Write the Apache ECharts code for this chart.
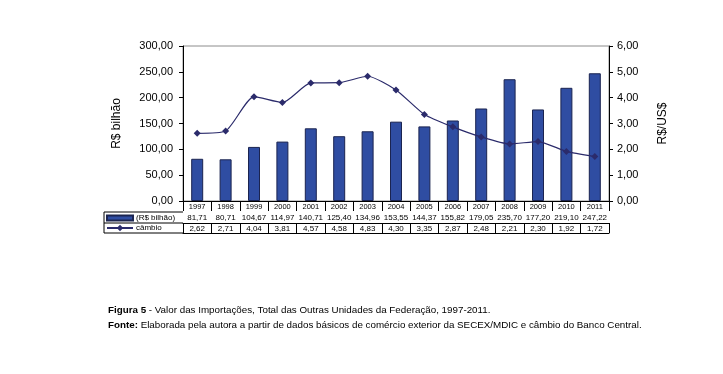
<!DOCTYPE html>
<html><head><meta charset="utf-8">
<script src="https://cdn.jsdelivr.net/npm/echarts@6/dist/echarts.min.js"></script>
<style>html,body{margin:0;padding:0;background:#fff}#c{width:723px;height:374px}</style>
</head><body><div id="c"></div>
<script>
var years = ['1997','1998','1999','2000','2001','2002','2003','2004','2005','2006','2007','2008','2009','2010','2011'];
var importacoes = [81.71,80.71,104.67,114.97,140.71,125.40,134.96,153.55,144.37,155.82,179.05,235.70,177.20,219.10,247.22];
var cambio = [2.62,2.71,4.04,3.81,4.57,4.58,4.83,4.30,3.35,2.87,2.48,2.21,2.30,1.92,1.72];
var seriesNames = ['(R$ bilhão)','câmbio'];
var captionTitle = 'Figura 5';
var captionText = ' - Valor das Importações, Total das Outras Unidades da Federação, 1997-2011.';
var sourceTitle = 'Fonte:';
var sourceText = ' Elaborada pela autora a partir de dados básicos de comércio exterior da SECEX/MDIC e câmbio do Banco Central.';

function fmt(v){ return v.toFixed(2).replace('.', ','); }
var FONT = 'Liberation Sans';
var chart = echarts.init(document.getElementById('c'));

function tableAxis(data, offset, showLabels){
  return {
    type:'category', data:data, position:'bottom', offset:offset, gridIndex:0,
    axisLine:{show:true, lineStyle:{color:'#000', width:1}},
    axisTick:{show:showLabels, length:10, inside:false, lineStyle:{color:'#000'}},
    axisLabel:{show:showLabels, margin:2, fontSize:8, color:'#000', fontFamily:FONT, interval:0},
    splitLine:{show:false}
  };
}

chart.setOption({
  animation:false,
  textStyle:{fontFamily:FONT},
  grid:{left:183, right:114, top:46, bottom:173, show:true, borderColor:'#8c8c8c', borderWidth:1},
  legend:[
    {data:[{name:seriesNames[0], icon:'rect'}], left:106, top:214, orient:'vertical', itemWidth:26, itemHeight:5, itemGap:0,
     textStyle:{fontSize:8, color:'#000', fontFamily:FONT, padding:[0,0,0,-2]}, padding:0, selectedMode:false},
    {data:[seriesNames[1]], left:106, top:224, orient:'vertical', itemWidth:26, itemHeight:8, itemGap:0,
     textStyle:{fontSize:8, color:'#000', fontFamily:FONT, padding:[0,0,0,-2]}, padding:0, selectedMode:false}
  ],
  xAxis:[
    {type:'category', data:years, position:'bottom', offset:0,
     axisLine:{show:true, lineStyle:{color:'#000', width:1}},
     axisTick:{show:true, length:10, lineStyle:{color:'#000'}},
     axisLabel:{margin:2, fontSize:7.5, color:'#000', fontFamily:FONT, interval:0}},
    tableAxis(importacoes.map(fmt), 11, true),
    tableAxis(cambio.map(fmt), 22, true),
    tableAxis(years, 32, false)
  ],
  yAxis:[
    {type:'value', min:0, max:300, interval:50, position:'left',
     name:'R$ bilhão', nameLocation:'middle', nameRotate:90, nameGap:60,
     nameTextStyle:{fontSize:12, color:'#000', fontFamily:FONT},
     axisLine:{show:true, lineStyle:{color:'#000'}},
     axisTick:{show:true, length:4, lineStyle:{color:'#000'}},
     axisLabel:{formatter:fmt, fontSize:11, color:'#000', margin:10, fontFamily:FONT},
     splitLine:{show:false}},
    {type:'value', min:0, max:6, interval:1, position:'right',
     name:'R$/US$', nameLocation:'middle', nameRotate:90, nameGap:48,
     nameTextStyle:{fontSize:12, color:'#000', fontFamily:FONT},
     axisLine:{show:true, lineStyle:{color:'#000'}},
     axisTick:{show:true, length:4, lineStyle:{color:'#000'}},
     axisLabel:{formatter:fmt, fontSize:11, color:'#000', margin:8, fontFamily:FONT},
     splitLine:{show:false}}
  ],
  series:[
    {name:seriesNames[0], type:'bar', data:importacoes, xAxisIndex:0, yAxisIndex:0, barWidth:12,
     itemStyle:{color:'#2f4da2', borderColor:'#1b2450', borderWidth:1}},
    {name:seriesNames[1], type:'line', data:cambio, xAxisIndex:0, yAxisIndex:1, smooth:0.2,
     symbol:'diamond', symbolSize:7, z:5,
     lineStyle:{color:'#2b2b6b', width:1.2}, itemStyle:{color:'#2b2b6b'}}
  ],
  graphic:[
    {type:'line', shape:{x1:104, y1:212, x2:183, y2:212}, style:{stroke:'#000', lineWidth:1}},
    {type:'line', shape:{x1:104, y1:223, x2:183, y2:223}, style:{stroke:'#000', lineWidth:1}},
    {type:'line', shape:{x1:104, y1:233, x2:183, y2:233}, style:{stroke:'#000', lineWidth:1}},
    {type:'line', shape:{x1:104, y1:212, x2:104, y2:233}, style:{stroke:'#000', lineWidth:1}},
    {type:'text', left:108, top:305, style:{
      text:'{b|'+captionTitle+'}'+captionText, fontSize:9.8, fontFamily:FONT, fill:'#000',
      rich:{b:{fontWeight:'bold', fontSize:9.8, fontFamily:FONT}}}},
    {type:'text', left:108, top:320, style:{
      text:'{b|'+sourceTitle+'}'+sourceText, fontSize:9.8, fontFamily:FONT, fill:'#000',
      rich:{b:{fontWeight:'bold', fontSize:9.8, fontFamily:FONT}}}}
  ]
});
</script></body></html>
